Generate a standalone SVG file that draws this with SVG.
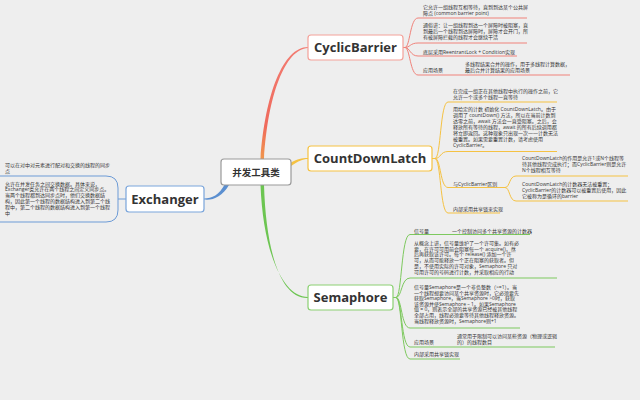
<svg xmlns="http://www.w3.org/2000/svg" width="640" height="400" viewBox="0 0 640 400">
<defs>
<style>
.t{font-family:"Open Sans","Noto Sans CJK SC",sans-serif;font-size:5px;fill:#333}
.h{font-family:"Open Sans","Noto Sans CJK SC",sans-serif;font-size:13px;font-weight:bold;fill:#333;text-anchor:middle}
.c{font-family:"Noto Sans CJK SC",sans-serif;font-size:9.5px;font-weight:bold;fill:#333;text-anchor:middle}
.box{fill:#fff;stroke-width:1.2}
.lr{fill:none;stroke:#F0827A;stroke-width:1}
.ly{fill:none;stroke:#F5C243;stroke-width:1}
.lg{fill:none;stroke:#7DC95E;stroke-width:1}
.lb{fill:none;stroke:#6D9BD6;stroke-width:1}
</style>
<linearGradient id="gr" gradientUnits="userSpaceOnUse" x1="0" y1="159" x2="0" y2="47">
<stop offset="0" stop-color="#F0964C"/><stop offset="0.3" stop-color="#EF6A5C"/><stop offset="1" stop-color="#F27C72"/>
</linearGradient>
</defs>
<rect width="640" height="400" fill="#EEEEEE"/>

<g id="connectors">
<path d="M260.5,159 C265,95 283,47 308,47 L308,48 C285,49 268,95 264,159 Z" fill="url(#gr)"/>
<path d="M291,162.5 C298,159 301,158 308,158 L308,159 C302,159 299,161 291,166 Z" fill="#F5C242"/>
<path d="M260.5,185 C263,250 282,297 308,297 L308,298 C280,299 266,250 264,185 Z" fill="#6CC551"/>
<path d="M225,184 C219,195 212,198.5 204,198.5 L204,199.5 C213,200.5 222,197 229,185 Z" fill="#5B8FD0"/>

<!-- CyclicBarrier branches -->
<path class="lr" d="M403,47.5 L405,47.5 C410,47.5 410,18 418,18 L527,18"/>
<path class="lr" d="M405,47.5 C410,47.5 410,43 418,43 L527,43"/>
<path class="lr" d="M405,47.5 C410,47.5 410,56 418,56 L517,56"/>
<path class="lr" d="M405,47.5 C410,47.5 410,75 418,75 L570,75"/>

<!-- CountDownLatch branches -->
<path class="ly" d="M432,158.5 L435,158.5 C441,158.5 440,102 448,102 L557,102"/>
<path class="ly" d="M435,158.5 C441,158.5 440,151.5 448,151.5 L557,151.5"/>
<path class="ly" d="M435,158.5 C441,158.5 440,187.5 448,187.5 L505,187.5"/>
<path class="ly" d="M435,158.5 C441,158.5 440,213 448,213 L500,213"/>
<path class="ly" d="M505,187.5 C510,187.5 509,176 516,176 L628,176"/>
<path class="ly" d="M505,187.5 C510,187.5 509,201 516,201 L628,201"/>

<!-- Semaphore branches -->
<path class="lg" d="M393,297.5 L396,297.5 C402,297.5 401,234.5 410,234.5 L530,234.5"/>
<path class="lg" d="M396,297.5 C402,297.5 401,278 410,278 L557,278"/>
<path class="lg" d="M396,297.5 C402,297.5 401,328 410,328 L520,328"/>
<path class="lg" d="M396,297.5 C402,297.5 401,347 410,347 L555,347"/>
<path class="lg" d="M396,297.5 C402,297.5 401,359 410,359 L460,359"/>

<!-- Exchanger branches -->
<path class="lb" d="M0,176 L106,176 Q118,176 118,188 L118,210 Q118,222 106,222 L0,222"/>
<path class="lb" d="M118,199 L126,199"/>
</g>

<g id="center">
<rect class="box" x="221" y="159" width="70" height="26" rx="3" stroke="#9A9A9A" stroke-width="1.5"/>
<text class="c" x="256" y="175.5">并发工具类</text>
</g>

<g id="cyclicbarrier">
<rect class="box" x="308" y="35" width="95" height="25" rx="3" stroke="#F4A199"/>
<text class="h" x="355.5" y="52">CyclicBarrier</text>
</g>
<g id="cb-1"><text class="t" x="423" y="9">它允许一组线程互相等待，直到到达某个公共屏</text><text class="t" x="423" y="15">障点 (common barrier point)</text></g>
<g id="cb-2"><text class="t" x="423" y="27">通俗讲：让一组线程到达一个屏障时被阻塞，直</text><text class="t" x="423" y="33">到最后一个线程到达屏障时，屏障才会开门，所</text><text class="t" x="423" y="39">有被屏障拦截的线程才会继续干活</text></g>
<g id="cb-3"><text class="t" x="423" y="53.5">底层采用ReentrantLock + Condition实现</text></g>
<g id="cb-4"><text class="t" x="423" y="72">应用场景</text></g>
<g id="cb-4-1"><text class="t" x="465" y="66">多线程结果合并的操作，用于多线程计算数据，</text><text class="t" x="465" y="72">最后合并计算结果的应用场景</text></g>

<g id="countdownlatch">
<rect class="box" x="308" y="146" width="124" height="25" rx="3" stroke="#F5C242"/>
<text class="h" x="370" y="163">CountDownLatch</text>
</g>
<g id="cdl-1"><text class="t" x="453" y="93">在完成一组正在其他线程中执行的操作之前，它</text><text class="t" x="453" y="99">允许一个或多个线程一直等待</text></g>
<g id="cdl-2">
<text class="t" x="453" y="110.5">用给定的计数 初始化 CountDownLatch。由于</text>
<text class="t" x="453" y="116.6">调用了 countDown() 方法，所以在当前计数到</text>
<text class="t" x="453" y="122.7">达零之前，await 方法会一直受阻塞。之后，会</text>
<text class="t" x="453" y="128.8">释放所有等待的线程，await 的所有后续调用都</text>
<text class="t" x="453" y="134.9">将立即返回。这种现象只出现一次——计数无法</text>
<text class="t" x="453" y="141">被重置。如果需要重置计数，请考虑使用</text>
<text class="t" x="453" y="147.1">CyclicBarrier。</text>
</g>
<g id="cdl-3"><text class="t" x="453" y="185.5">与CyclicBarrier区别</text></g>
<g id="cdl-3-1"><text class="t" x="522" y="160">CountDownLatch的作用是允许1或N个线程等</text><text class="t" x="522" y="166">待其他线程完成执行；而CyclicBarrier则是允许</text><text class="t" x="522" y="172">N个线程相互等待</text></g>
<g id="cdl-3-2"><text class="t" x="522" y="186">CountDownLatch的计数器无法被重置；</text><text class="t" x="522" y="192">CyclicBarrier的计数器可以被重置后使用，因此</text><text class="t" x="522" y="198">它被称为是循环的barrier</text></g>
<g id="cdl-4"><text class="t" x="453" y="211">内部采用共享锁来实现</text></g>

<g id="semaphore">
<rect class="box" x="308" y="285" width="85" height="25" rx="3" stroke="#8BD072"/>
<text class="h" x="350.5" y="302">Semaphore</text>
</g>
<g id="sem-1"><text class="t" x="414" y="232.5">信号量</text></g>
<g id="sem-1-1"><text class="t" x="452" y="232.5">一个控制访问多个共享资源的计数器</text></g>
<g id="sem-2">
<text class="t" x="414" y="245">从概念上讲，信号量维护了一个许可集。如有必</text>
<text class="t" x="414" y="250.7">要，在许可可用前会阻塞每一个 acquire()，然</text>
<text class="t" x="414" y="256.4">后再获取该许可。每个 release() 添加一个许</text>
<text class="t" x="414" y="262.1">可，从而可能释放一个正在阻塞的获取者。但</text>
<text class="t" x="414" y="267.8">是，不使用实际的许可对象，Semaphore 只对</text>
<text class="t" x="414" y="273.5">可用许可的号码进行计数，并采取相应的行动</text>
</g>
<g id="sem-3">
<text class="t" x="414" y="289">信号量Semaphore是一个非负整数（&gt;=1）。当</text>
<text class="t" x="414" y="294.6">一个线程想要访问某个共享资源时，它必须要先</text>
<text class="t" x="414" y="300.2">获取Semaphore，当Semaphore &gt;0时，获取</text>
<text class="t" x="414" y="305.8">该资源并使Semaphore – 1。如果Semaphore</text>
<text class="t" x="414" y="311.4">值 = 0，则表示全部的共享资源已经被其他线程</text>
<text class="t" x="414" y="317">全部占用，线程必须要等待其他线程释放资源。</text>
<text class="t" x="414" y="322.6">当线程释放资源时，Semaphore则+1</text>
</g>
<g id="sem-4"><text class="t" x="414" y="344">应用场景</text></g>
<g id="sem-4-1"><text class="t" x="457" y="337.5">通常用于限制可以访问某些资源（物理或逻辑</text><text class="t" x="457" y="343.5">的）的线程数目</text></g>
<g id="sem-5"><text class="t" x="414" y="356">内部采用共享锁实现</text></g>

<g id="exchanger">
<rect class="box" x="126" y="186" width="78" height="26" rx="3" stroke="#7AA5DB"/>
<text class="h" x="165" y="203.5">Exchanger</text>
</g>
<g id="ex-1"><text class="t" x="5" y="166.5">可以在对中对元素进行配对和交换的线程的同步</text><text class="t" x="5" y="172.5">点</text></g>
<g id="ex-2">
<text class="t" x="5" y="185.5">允许在并发任务之间交换数据。具体来说，</text>
<text class="t" x="5" y="191.3">Exchanger类允许在两个线程之间定义同步点。</text>
<text class="t" x="5" y="197.1">当两个线程都到达同步点时，他们交换数据结</text>
<text class="t" x="5" y="202.9">构，因此第一个线程的数据结构进入到第二个线</text>
<text class="t" x="5" y="208.7">程中，第二个线程的数据结构进入到第一个线程</text>
<text class="t" x="5" y="214.5">中</text>
</g>
</svg>
